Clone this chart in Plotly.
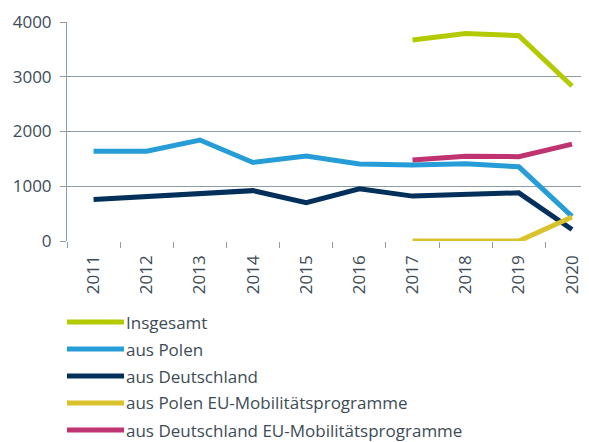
import plotly.graph_objects as go

years = ["2011", "2012", "2013", "2014", "2015", "2016", "2017", "2018", "2019", "2020"]
insgesamt = [None, None, None, None, None, None, 3670, 3790, 3750, 2830]
aus_polen = [1640, 1640, 1845, 1435, 1550, 1405, 1390, 1410, 1355, 450]
aus_deutschland = [760, 820, 870, 920, 700, 955, 820, 855, 880, 210]
polen_eu = [None, None, None, None, None, None, 0, 0, 0, 440]
deutschland_eu = [None, None, None, None, None, None, 1480, 1550, 1540, 1770]

series_names = ["Insgesamt", "aus Polen", "aus Deutschland",
                "aus Polen EU-Mobilitätsprogramme", "aus Deutschland EU-Mobilitätsprogramme"]
series_values = [insgesamt, aus_polen, aus_deutschland, polen_eu, deutschland_eu]
colors = ["#b4ca00", "#279dd8", "#02305a", "#dac22c", "#bf3470"]

FONT = "Open Sans"
TEXT = "#3d4c56"
GRID = "#8d9ca6"

# the page body has an 8px default margin; the figure is sized to fill the rest
OFF = 8
W, H = 589 - OFF, 442 - OFF
plot_top, plot_bottom, plot_left = 22 - OFF, 241 - OFF, 67 - OFF

fig = go.Figure()
for name, vals, col in zip(series_names, series_values, colors):
    fig.add_trace(go.Scatter(x=years, y=vals, name=name, mode="lines",
                             line=dict(color=col, width=5), showlegend=False,
                             cliponaxis=False))

# custom legend
row_px = [322 - OFF, 349 - OFF, 376 - OFF, 403 - OFF, 430 - OFF]
ph = plot_bottom - plot_top
pw = W - plot_left
for name, col, ypx in zip(series_names, colors, row_px):
    yp = (plot_bottom - ypx) / ph
    fig.add_shape(type="line", xref="paper", yref="paper",
                  x0=0, x1=57 / pw, y0=yp, y1=yp,
                  line=dict(color=col, width=5))
    fig.add_annotation(xref="paper", yref="paper", x=58 / pw, y=yp,
                       text=name, showarrow=False, xanchor="left", yanchor="middle",
                       borderpad=0,
                       font=dict(family=FONT, size=17, color=TEXT))

fig.update_layout(
    width=W, height=H,
    margin=dict(l=plot_left, r=0, t=plot_top, b=H - plot_bottom, autoexpand=False),
    paper_bgcolor="white", plot_bgcolor="white",
    font=dict(family=FONT, color=TEXT),
)
fig.update_xaxes(type="category", range=[-0.5, 9.32], tickangle=-90, automargin=False,
                 tickson="boundaries", ticks="outside", ticklen=6, tickcolor=GRID,
                 ticklabelstandoff=10,
                 showgrid=False, showline=False, zeroline=False,
                 tickfont=dict(family=FONT, size=17, color=TEXT))
fig.update_yaxes(range=[0, 4000], tickvals=[0, 1000, 2000, 3000, 4000], automargin=False,
                 ticks="outside", ticklen=6, tickcolor=GRID, ticklabelstandoff=5,
                 showgrid=True, gridcolor=GRID, gridwidth=1,
                 showline=True, linecolor=GRID, linewidth=1, zeroline=False,
                 tickfont=dict(family=FONT, size=17, color=TEXT))

fig.write_html("out.html")
